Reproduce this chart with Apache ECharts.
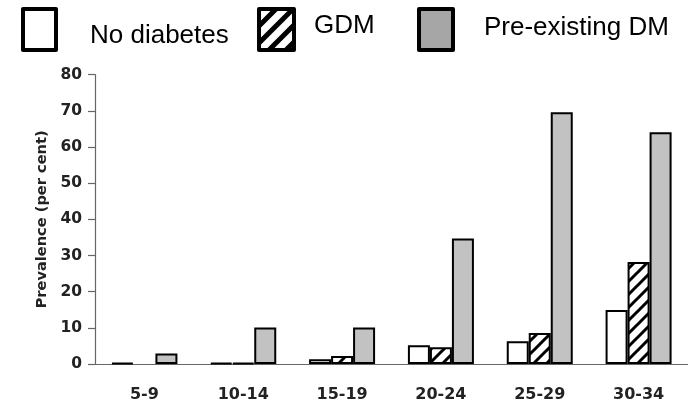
<!DOCTYPE html>
<html>
<head>
<meta charset="utf-8">
<script src="https://cdn.jsdelivr.net/npm/echarts@6/dist/echarts.min.js"></script>
<style>
html,body{margin:0;padding:0;background:#fff;}
#chart{width:688px;height:403px;}
</style>
</head>
<body>
<div id="chart"></div>
<script>
// ---- data ----
const categories = ['5-9', '10-14', '15-19', '20-24', '25-29', '30-34'];
const seriesNames = ['No diabetes', 'GDM', 'Pre-existing DM'];
const noDiabetes = [0.3, 0.3, 1.3, 5.2, 6.3, 14.9];
const gdm = [null, 0.3, 2.2, 4.6, 8.6, 28.2];
const preExisting = [2.9, 10.1, 10.1, 34.7, 69.6, 64.1];
const yTicks = [0, 10, 20, 30, 40, 50, 60, 70, 80];
const yAxisName = 'Prevalence (per cent)';

// ---- hatch patterns ----
function hatch(size, lw) {
  const c = document.createElement('canvas');
  c.width = size; c.height = size;
  const g = c.getContext('2d');
  g.fillStyle = '#fff'; g.fillRect(0, 0, size, size);
  g.strokeStyle = '#000'; g.lineWidth = lw;
  g.beginPath();
  for (let k = 0; k <= 2; k++) {
    const s = k * size; // line x + y = s
    g.moveTo(s + size, -size); g.lineTo(s - size * 2, size * 2);
  }
  g.stroke();
  return c;
}
const barHatch = { image: hatch(13, 3), repeat: 'repeat' };
const legendHatch = { image: hatch(17, 5), repeat: 'repeat' };

const chart = echarts.init(document.getElementById('chart'), null, { renderer: 'canvas' });

const legendFont = { fontFamily: 'Liberation Sans', fontSize: 26, color: '#000' };
function mkLegend(name, left, w, padL, shift, color) {
  const pad = shift >= 0 ? [shift * 2, 0, 0, 0] : [0, 0, -shift * 2, 0];
  return {
    data: [{ name: name, itemStyle: { color: color, borderColor: '#000', borderWidth: 4, borderJoin: 'round' } }],
    left: left, top: 7, padding: 0,
    itemWidth: w, itemHeight: 41,
    icon: 'rect',
    selectedMode: false,
    formatter: function (n) { return '{t|' + n + '}'; },
    textStyle: Object.assign({
      padding: [0, 0, 0, padL],
      rich: { t: Object.assign({ padding: pad }, legendFont) }
    }, legendFont)
  };
}

const option = {
  backgroundColor: '#fff',
  animation: false,
  legend: [
    mkLegend(seriesNames[0], 21, 33, 29, 6, '#fff'),
    mkLegend(seriesNames[1], 257, 35, 15, -4, legendHatch),
    mkLegend(seriesNames[2], 417, 34, 26, -1.5, '#a6a6a6')
  ],
  grid: { left: 95, right: -3, top: 74.7, bottom: 38, containLabel: false },
  xAxis: {
    type: 'category',
    data: categories,
    axisLine: { lineStyle: { color: '#666', width: 1.2 } },
    axisTick: { show: false },
    axisLabel: { fontFamily: 'DejaVu Sans', fontWeight: 'bold', fontSize: 16, color: '#222', margin: 23 }
  },
  yAxis: {
    type: 'value',
    min: yTicks[0], max: yTicks[yTicks.length - 1], interval: 10,
    name: yAxisName,
    nameLocation: 'middle',
    nameGap: 44,
    nameTextStyle: { fontFamily: 'DejaVu Sans', fontWeight: 'bold', fontSize: 14.6, color: '#222' },
    axisLine: { show: true, lineStyle: { color: '#666', width: 1.2 } },
    axisTick: { show: true, length: 7, lineStyle: { color: '#666', width: 1.2 } },
    splitLine: { show: false },
    axisLabel: { fontFamily: 'DejaVu Sans', fontWeight: 'bold', fontSize: 15.5, color: '#222', margin: 13 }
  },
  series: [
    { name: seriesNames[0], type: 'bar', data: noDiabetes, barWidth: 22, barGap: '0%',
      itemStyle: { color: '#fff', borderColor: '#000', borderWidth: 2 } },
    { name: seriesNames[1], type: 'bar', data: gdm, barWidth: 22, barGap: '0%',
      itemStyle: { color: barHatch, borderColor: '#000', borderWidth: 2 } },
    { name: seriesNames[2], type: 'bar', data: preExisting, barWidth: 22, barGap: '0%',
      itemStyle: { color: '#c2c2c2', borderColor: '#000', borderWidth: 2 } }
  ]
};
chart.setOption(option);
</script>
</body>
</html>
